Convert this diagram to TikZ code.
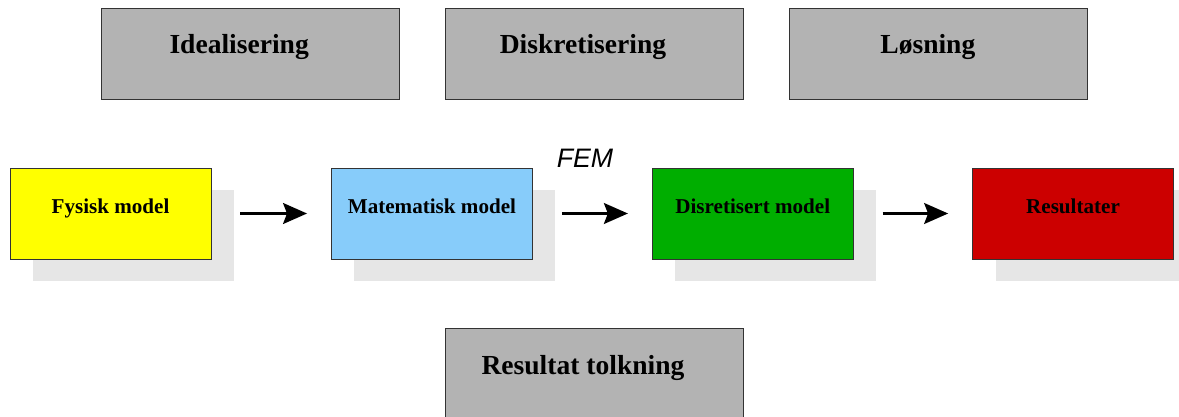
\documentclass[tikz,border=0pt]{standalone}
\usepackage{fontspec}
\setmainfont{Liberation Serif}
\newfontfamily\femfont{Liberation Sans}
\usetikzlibrary{positioning,shadows,arrows.meta}

\definecolor{boxgray}{HTML}{B3B3B3}
\definecolor{shadowgray}{HTML}{E6E6E6}
\definecolor{fysyellow}{HTML}{FFFF00}
\definecolor{lightblue}{HTML}{87CCFA}
\definecolor{femgreen}{HTML}{00AE00}
\definecolor{femred}{HTML}{CC0000}

\tikzstyle{stepbox} = [rectangle, minimum width=7.45cm, minimum height=2.275cm, text height=3mm, text depth=3mm, draw=black!80, line width=0.6pt, fill=boxgray, font=\fontsize{19.6}{23}\selectfont\bfseries]
\tikzstyle{modelbox} = [rectangle, minimum width=5.025cm, minimum height=2.275cm, text height=3mm, text depth=3mm, draw=black!80, line width=0.6pt, font=\fontsize{15}{18}\selectfont\bfseries, drop shadow={shadow xshift=0.575cm, shadow yshift=-0.55cm, fill=shadowgray, opacity=1}]
\tikzstyle{arrow} = [-{Stealth[length=0.6cm, width=0.525cm, inset=0.1cm]}, line width=0.05cm, shorten <=0.725cm, shorten >=0.6cm]

\begin{document}
\begin{tikzpicture}
	\useasboundingbox (0,0) rectangle (29.475,-10.425);
	\node (diskretisering) [stepbox] at (14.85,-1.3375) {Diskretisering\kern0.55cm};
	\node (idealisering) [stepbox, left=1.125cm of diskretisering] {Idealisering\kern0.55cm};
	\node (losning) [stepbox, right=1.15cm of diskretisering] {Løsning\kern0.55cm};
	
	\node (fysisk) [modelbox, fill=fysyellow] at (2.7625,-5.3375) {Fysisk model};
	\node (matematisk) [modelbox, fill=lightblue, right=2.99cm of fysisk] {Matematisk model};
	\node (disretisert) [modelbox, fill=femgreen, right=2.975cm of matematisk] {Disretisert model};
	\node (resultater) [modelbox, fill=femred, right=2.96cm of disretisert] {Resultater};
	
	\node (fem) [anchor=base, font=\femfont\itshape\fontsize{19}{23}\selectfont] at (14.625,-4.2) {FEM};
	
	\node (tolkning) [stepbox, below=5.725cm of diskretisering] {Resultat tolkning\kern0.55cm};
	
	\draw [arrow] (fysisk) -- (matematisk);
	\draw [arrow] (matematisk) -- (disretisert);
	\draw [arrow] (disretisert) -- (resultater);
\end{tikzpicture}
\end{document}
